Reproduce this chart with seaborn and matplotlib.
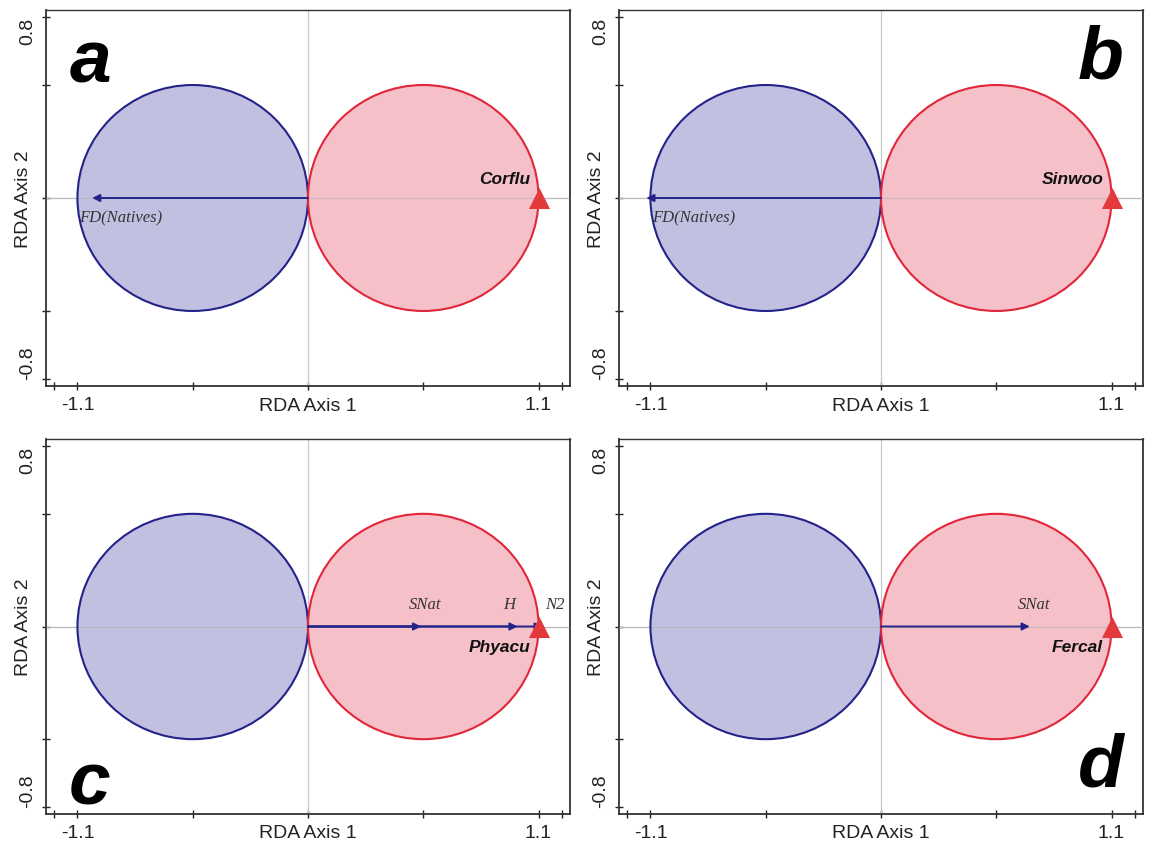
#
# RDA biplots of invasive species vs native diversity (four panels)
#

import matplotlib
matplotlib.use("Agg")
import matplotlib.pyplot as plt
from matplotlib.patches import Ellipse
import seaborn as sns
import pandas as pd

# panel data
panel_letters = ["a", "b", "c", "d"]
species_names = ["Corflu", "Sinwoo", "Phyacu", "Fercal"]
species_x = [1.1, 1.1, 1.1, 1.1]
species_y = [0.0, 0.0, 0.0, 0.0]

# explanatory-variable arrows for each panel (name, tip on axis 1)
arrow_names = [["FD(Natives)"], ["FD(Natives)"], ["SNat", "H", "N2"], ["SNat"]]
arrow_x = [[-1.03], [-1.12], [0.54, 1.0, 1.12], [0.71]]

# the two group circles
circle_centers = [-0.55, 0.55]
circle_width = 1.1
circle_height = 1.0

x_tick_values = [-1.21, -1.1, -0.55, 0, 0.55, 1.1, 1.21]
x_tick_labels = ["", "-1.1", "", "", "", "1.1", ""]
y_tick_values = [-0.8, -0.5, 0, 0.5, 0.8]
y_tick_labels = ["-0.8", "", "", "", "0.8"]

BLUE_FILL = "#c2c0e0"
BLUE_EDGE = "#23238a"
RED_FILL = "#f6c0c9"
RED_EDGE = "#e2263a"
TRI_COLOR = "#e23a3a"

sns.set_style("white")
plt.rcParams["font.family"] = ["Liberation Sans", "DejaVu Sans"]
plt.rcParams["text.color"] = "#111111"

fig = plt.figure(figsize=(11.55, 8.45), dpi=100)
W, H = 1155, 845
# axes boxes in pixels: left, top, right, bottom
boxes = [(46, 11, 570, 387), (619, 11, 1143, 387),
         (46, 440, 570, 815), (619, 440, 1143, 815)]

# letter positions (data coords) and species label offsets
letter_pos = [(-1.04, 0.6), (1.05, 0.62), (-1.04, -0.7), (1.05, -0.62)]
species_label_y = [0.085, 0.085, -0.09, -0.09]


def draw_panel(ax, i):
    ax.set_xlim(-1.25, 1.25)
    ax.set_ylim(-0.832, 0.832)

    # reference lines
    ax.axhline(0, color="#c8c8c8", lw=0.9, zorder=1)
    ax.axvline(0, color="#c8c8c8", lw=0.9, zorder=1)

    for cx, fill, edge in zip(circle_centers, [BLUE_FILL, RED_FILL], [BLUE_EDGE, RED_EDGE]):
        ax.add_patch(Ellipse((cx, 0), circle_width, circle_height,
                             facecolor=fill, edgecolor="none", zorder=2))
        ax.add_patch(Ellipse((cx, 0), circle_width, circle_height,
                             facecolor="none", edgecolor=edge, lw=1.5, zorder=4))
    ax.axhline(0, color="#b0b0b0", lw=0.8, alpha=0.6, zorder=3)

    # arrows
    for name, tip in zip(arrow_names[i], arrow_x[i]):
        ax.annotate("", xy=(tip, 0), xytext=(0, 0),
                    arrowprops=dict(arrowstyle="-|>", color=BLUE_EDGE, lw=1.4,
                                    mutation_scale=11, shrinkA=0, shrinkB=0),
                    zorder=5)

    # arrow labels
    if i in (0, 1):
        ax.text(arrow_x[i][0] + (-0.06 if i == 0 else 0.03), -0.085, "FD(Natives)",
                family="Liberation Serif", style="italic", fontsize=12,
                color="#333333", ha="left", va="center", zorder=6)
    else:
        label_x = {"SNat": arrow_x[i][0] + 0.02, "H": 0.96, "N2": 1.18}
        for name in arrow_names[i]:
            ax.text(label_x[name], 0.1, name, family="Liberation Serif",
                    style="italic", fontsize=12, color="#333333",
                    ha="center", va="center", zorder=6)

    # species triangle
    df = pd.DataFrame({"x": [species_x[i]], "y": [species_y[i]]})
    sns.scatterplot(data=df, x="x", y="y", marker="^", s=230, color=TRI_COLOR,
                    edgecolor=TRI_COLOR, linewidth=0, ax=ax, zorder=6, legend=False)
    ax.text(1.06, species_label_y[i], species_names[i], fontsize=12.5,
            fontweight="bold", style="italic", ha="right", va="center", zorder=7)

    # panel letter
    lx, ly = letter_pos[i]
    ax.text(lx, ly, panel_letters[i], fontsize=54, fontweight="bold",
            style="italic", color="black", ha="center", va="center", zorder=7)

    ax.set_xticks(x_tick_values)
    ax.set_xticklabels(x_tick_labels)
    ax.set_yticks(y_tick_values)
    ax.set_yticklabels(y_tick_labels, rotation=90)
    ylabels = ax.get_yticklabels()
    ylabels[0].set_va("bottom")
    ylabels[-1].set_va("top")
    ax.tick_params(direction="inout", length=6, width=1, labelsize=14,
                   colors="#222222", bottom=True, left=True, pad=4)
    ax.set_xlabel("RDA Axis 1", fontsize=14, color="#222222")
    ax.set_ylabel("RDA Axis 2", fontsize=14, color="#222222")
    ax.xaxis.set_label_coords(0.5, -0.028)
    ax.yaxis.set_label_coords(-0.026, 0.5)
    for side in ["top", "right", "bottom", "left"]:
        ax.spines[side].set_color("#333333")
        ax.spines[side].set_linewidth(1.3)
    ax.spines["top"].set_linewidth(1.0)


for i, (l, t, r, b) in enumerate(boxes):
    ax = fig.add_axes([l / W, 1 - b / H, (r - l) / W, (b - t) / H])
    draw_panel(ax, i)

fig.savefig("out.png", dpi=100)
